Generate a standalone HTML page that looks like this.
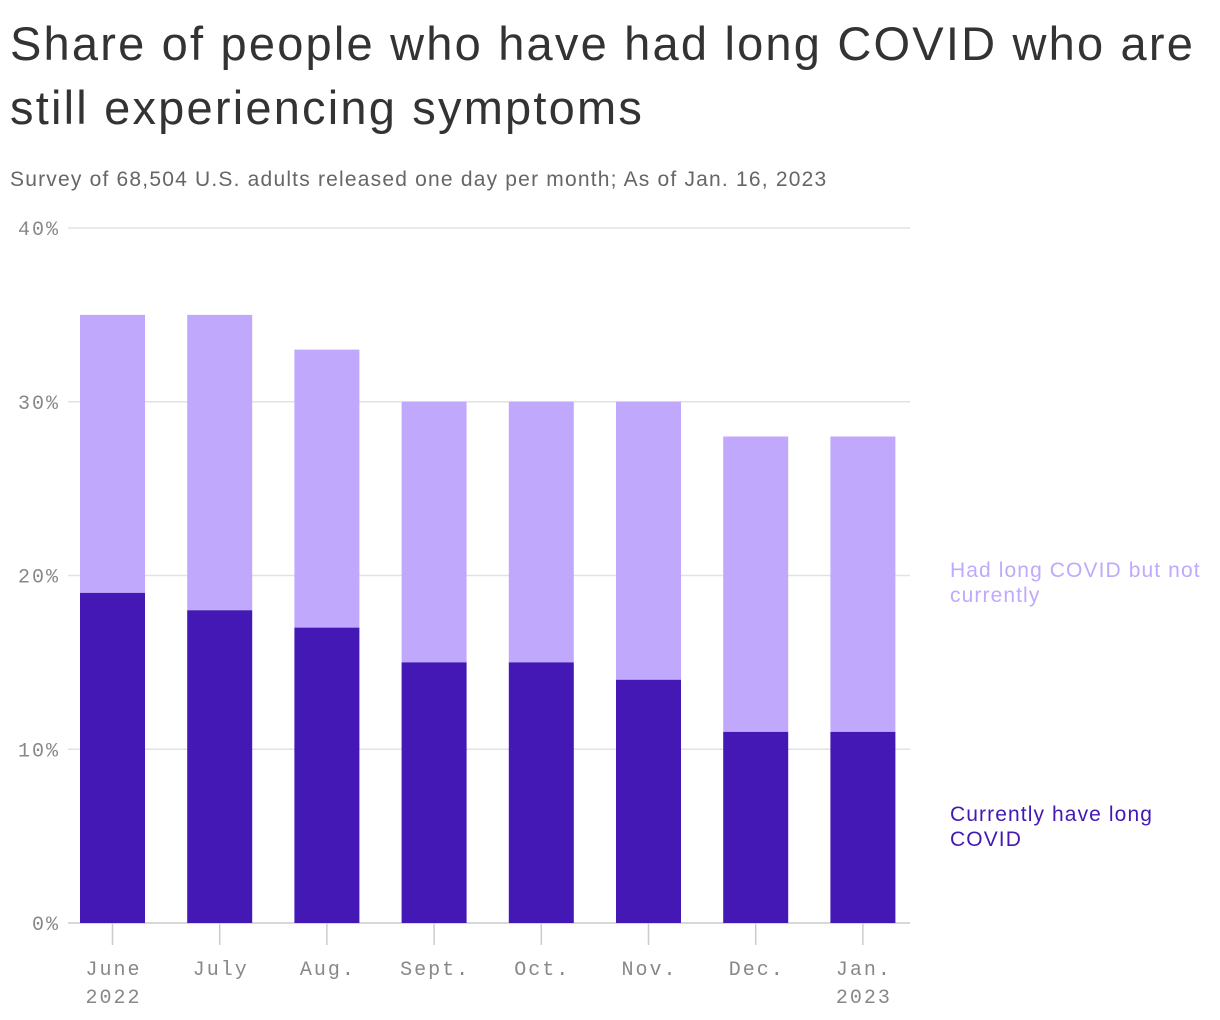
<!DOCTYPE html>
<html><head><meta charset="utf-8">
<style>
body{margin:0;background:#fff;width:1220px;height:1020px;overflow:hidden;font-family:"Liberation Sans",sans-serif}
h1{position:absolute;left:10px;top:12px;margin:0;font-weight:400;font-size:47px;line-height:64px;color:#333;letter-spacing:2.2px;white-space:nowrap}
.sub{position:absolute;left:10px;top:168px;font-size:21px;color:#666;letter-spacing:1.2px;white-space:nowrap}
svg{position:absolute;left:0;top:0}
.lg{position:absolute;left:950px;font-size:21px;line-height:25px;letter-spacing:1.1px;white-space:nowrap}
</style></head><body>
<h1>Share of people who have had long COVID who are<br>still experiencing symptoms</h1>
<div class="sub">Survey of 68,504 U.S. adults released one day per month; As of Jan. 16, 2023</div>
<svg id="chart" width="1220" height="1020"></svg>
<div class="lg" style="top:558px;color:#c0a9fd">Had long COVID but not<br>currently</div>
<div class="lg" style="top:802px;color:#4318b5">Currently have long<br>COVID</div>
<script>
const months=["June","July","Aug.","Sept.","Oct.","Nov.","Dec.","Jan."];
const years=["2022","","","","","","","2023"];
const totalShare=[35,35,33,30,30,30,28,28];
const currentShare=[19,18,17,15,15,14,11,11];
const yTicks=[0,10,20,30,40];
const svg=document.getElementById('chart');
const NS='http://www.w3.org/2000/svg';
const y=v=>923-v*(923-228)/40;
const x=i=>112.5+i*107.2;
const bw=65;
function mk(t,a){const e=document.createElementNS(NS,t);for(const k in a)e.setAttribute(k,a[k]);svg.appendChild(e);return e;}
yTicks.forEach(v=>{
  const l=mk('line',{x1:68,x2:910,y1:y(v),y2:y(v),stroke:v===0?'#ccc':'#e2e2e2','stroke-width':1.5});
  
  
  const t=mk('text',{x:60,y:y(v)+7,'text-anchor':'end','font-family':'Liberation Mono, monospace','font-size':20,'letter-spacing':2,fill:'#888'});
  t.textContent=v+'%';
  
  
});
months.forEach((m,i)=>{
  const cx=x(i);
  const tk=mk('line',{x1:cx,x2:cx,y1:923,y2:945,stroke:'#ccc','stroke-width':1.5});
  
  
  const r1=mk('rect',{x:cx-bw/2,y:y(totalShare[i]),width:bw,height:y(currentShare[i])-y(totalShare[i]),fill:'#c0a9fd'});
  
  
  const r2=mk('rect',{x:cx-bw/2,y:y(currentShare[i]),width:bw,height:923-y(currentShare[i]),fill:'#4318b5'});
  
  
  const t=mk('text',{x:cx+1,y:975,'text-anchor':'middle','font-family':'Liberation Mono, monospace','font-size':20,'letter-spacing':2,fill:'#888'});
  t.textContent=m;
  
  
  if(years[i]){
    const t2=mk('text',{x:cx+1,y:1003,'text-anchor':'middle','font-family':'Liberation Mono, monospace','font-size':20,'letter-spacing':2,fill:'#888'});
    t2.textContent=years[i];
    
    
  }
});
</script>
</body></html>
